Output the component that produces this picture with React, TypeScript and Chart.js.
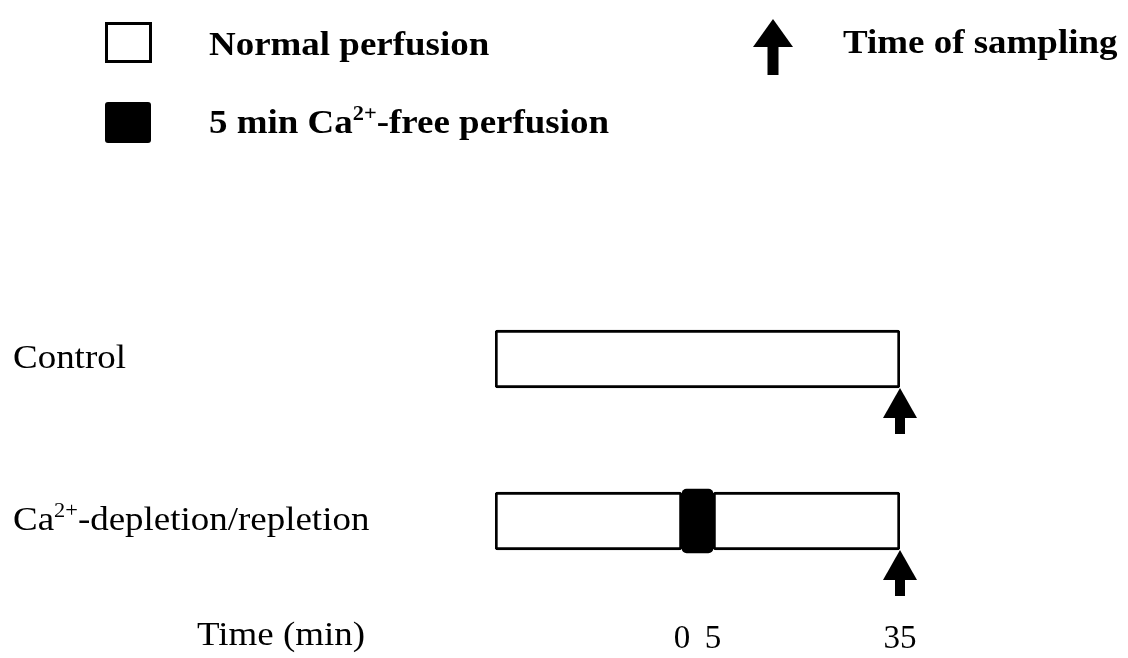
import React, { useEffect, useRef } from "react";
import { Chart, registerables } from "chart.js";

Chart.register(...registerables);

// ---- data ----
const categories = ["Control", "Ca2+-depletion/repletion"];
const normalPerfusionA: ([number, number] | null)[] = [[-30, 35], [-30, 0]];
const normalPerfusionB: ([number, number] | null)[] = [null, [5, 35]];
const caFreePerfusion: ([number, number] | null)[] = [null, [0, 5]];
const samplingTimes = [35, 35];
const timeTicks = [0, 5, 35];
const timeMin = -30;
const timeMax = 35;

const FONT = '"Liberation Serif", "Times New Roman", serif';
const SX = 1.12;

type Part = { t: string; sup?: boolean };

function drawRich(ctx: CanvasRenderingContext2D, parts: Part[], x: number, y: number, size: number, bold: boolean) {
  ctx.save();
  ctx.translate(x, y);
  ctx.scale(SX, 1);
  ctx.fillStyle = "#000";
  ctx.textBaseline = "alphabetic";
  ctx.textAlign = "left";
  let cx = 0;
  for (const p of parts) {
    const s = p.sup ? Math.round(size * 0.62) : size;
    ctx.font = `${bold ? "bold " : ""}${s}px ${FONT}`;
    ctx.fillText(p.t, cx, p.sup ? -size * 0.4 : 0);
    cx += ctx.measureText(p.t).width;
  }
  ctx.restore();
}

function drawArrow(ctx: CanvasRenderingContext2D, x: number, tipY: number, headH: number, headHalfW: number, stemW: number, stemL: number) {
  ctx.save();
  ctx.fillStyle = "#000";
  ctx.beginPath();
  ctx.moveTo(x, tipY);
  ctx.lineTo(x + headHalfW, tipY + headH);
  ctx.lineTo(x - headHalfW, tipY + headH);
  ctx.closePath();
  ctx.fill();
  ctx.fillRect(x - stemW / 2, tipY + headH - 1, stemW, stemL + 1);
  ctx.restore();
}

const labelParts: Part[][] = [
  [{ t: "Control" }],
  [{ t: "Ca" }, { t: "2+", sup: true }, { t: "-depletion/repletion" }],
];

const overlayPlugin = {
  id: "overlay",
  afterDraw(chart: any) {
    const ctx: CanvasRenderingContext2D = chart.ctx;
    const xs = chart.scales.x;
    const ys = chart.scales.y;
    // category labels
    categories.forEach((_, i) => {
      const yc = ys.getPixelForValue(i);
      drawRich(ctx, labelParts[i], 13, yc + 9, 33, false);
    });
    // sampling arrows
    samplingTimes.forEach((t, i) => {
      const yc = ys.getPixelForValue(i);
      drawArrow(ctx, xs.getPixelForValue(t), yc + 29, 30, 17, 10, 16);
    });
    // time axis title
    drawRich(ctx, [{ t: "Time (min)" }], 197, 645, 33, false);

    // legend
    ctx.save();
    ctx.strokeStyle = "#000";
    ctx.lineWidth = 3;
    ctx.strokeRect(106.5, 23.5, 44, 38);
    ctx.fillStyle = "#000";
    ctx.beginPath();
    (ctx as any).roundRect(105, 102, 46, 41, 3);
    ctx.fill();
    ctx.restore();
    drawRich(ctx, [{ t: "Normal perfusion" }], 209, 55, 33, true);
    drawRich(ctx, [{ t: "5 min Ca" }, { t: "2+", sup: true }, { t: "-free perfusion" }], 209, 133, 33, true);
    drawArrow(ctx, 773, 19, 28, 20, 11, 28);
    drawRich(ctx, [{ t: "Time of sampling" }], 843, 53, 33, true);
  },
};

export default function App() {
  const ref = useRef<HTMLCanvasElement>(null);
  useEffect(() => {
    if (!ref.current) return;
    const common = {
      grouped: false,
      borderSkipped: false,
      borderColor: "#000",
    };
    const chart = new Chart(ref.current, {
      type: "bar",
      data: {
        labels: categories,
        datasets: [
          { label: "Normal perfusion", data: normalPerfusionA as any, backgroundColor: "#fff", borderWidth: 3, barThickness: 58, borderRadius: 3, ...common },
          { label: "Normal perfusion (after)", data: normalPerfusionB as any, backgroundColor: "#fff", borderWidth: 3, barThickness: 58, borderRadius: 3, ...common },
          { label: "5 min Ca2+-free perfusion", data: caFreePerfusion as any, backgroundColor: "#000", borderWidth: 0, barThickness: 64, borderRadius: 5, ...common },
        ],
      },
      options: {
        indexAxis: "y",
        responsive: false,
        animation: false,
        layout: { padding: { left: 495, right: 228, top: 278, bottom: 0 } },
        plugins: { legend: { display: false }, tooltip: { enabled: false } },
        scales: {
          x: {
            type: "linear",
            min: timeMin,
            max: timeMax,
            grid: { display: false, drawTicks: false },
            border: { display: false },
            afterFit: (s: any) => { s.height = 56; },
            afterBuildTicks: (s: any) => { s.ticks = timeTicks.map((v) => ({ value: v })); },
            ticks: {
              color: "#000",
              font: { family: FONT, size: 33 },
              padding: 18,
              autoSkip: false,
              maxRotation: 0,
              callback: (v: any) => String(v),
            },
          },
          y: {
            type: "category",
            display: false,
            offset: true,
          },
        },
      },
      plugins: [overlayPlugin],
    } as any);
    return () => chart.destroy();
  }, []);
  return (
    <div style={{ position: "absolute", left: 0, top: 0, width: 1128, height: 658, background: "#fff" }}>
      <canvas ref={ref} width={1128} height={658} />
    </div>
  );
}
